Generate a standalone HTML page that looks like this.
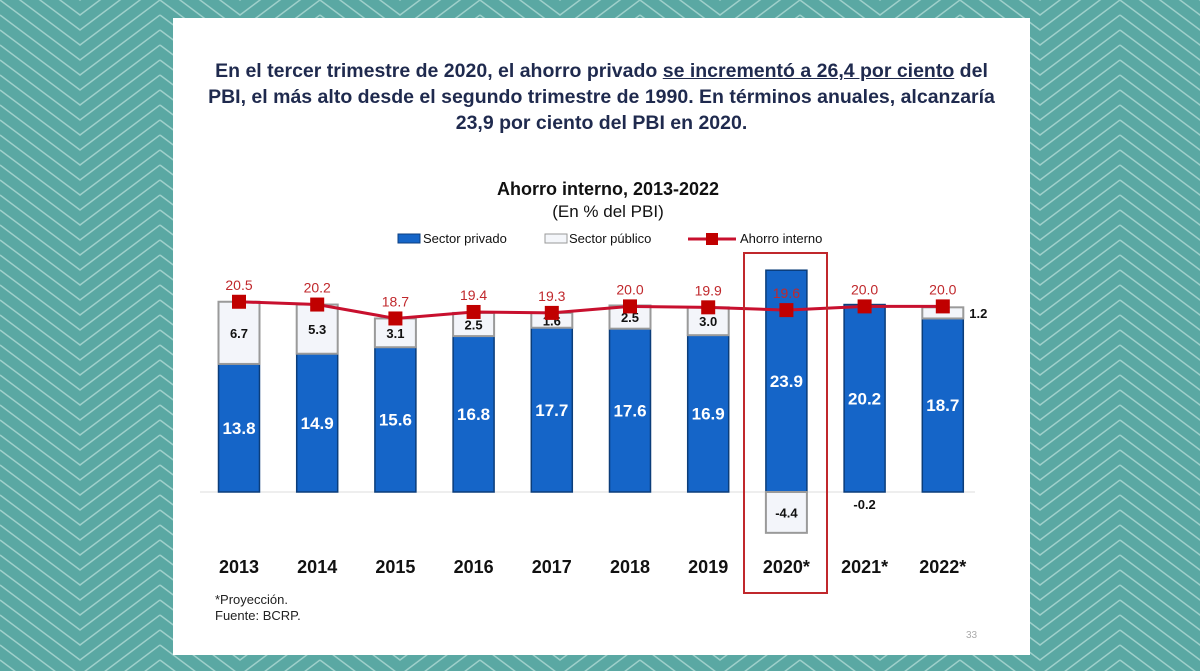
<!DOCTYPE html>
<html><head><meta charset="utf-8"><style>
html,body{margin:0;padding:0;width:1200px;height:671px;overflow:hidden;font-family:"Liberation Sans",Arial,sans-serif}
#bg{position:absolute;left:0;top:0}
#panel{position:absolute;left:173px;top:18px;width:857px;height:637px;background:#fff}
#head{position:absolute;left:173px;top:58px;width:857px;text-align:center;font-weight:bold;font-size:19.5px;line-height:26px;color:#1f2a4e}
#head u{text-decoration:underline}
#chart{position:absolute;left:0;top:0}
</style></head><body>
<svg id="bg" width="1200" height="671">
<defs><pattern id="chev" width="160" height="15" patternUnits="userSpaceOnUse" x="0" y="0">
<rect width="160" height="15" fill="#5aa8a3"/>
<polyline points="0,-60 80,0 160,-60" fill="none" stroke="#9fd0cb" stroke-width="1.5"/>
<polyline points="0,-45 80,15 160,-45" fill="none" stroke="#9fd0cb" stroke-width="1.5"/>
<polyline points="0,-30 80,30 160,-30" fill="none" stroke="#9fd0cb" stroke-width="1.5"/>
<polyline points="0,-15 80,45 160,-15" fill="none" stroke="#9fd0cb" stroke-width="1.5"/>
<polyline points="0,0 80,60 160,0" fill="none" stroke="#9fd0cb" stroke-width="1.5"/>
<polyline points="0,15 80,75 160,15" fill="none" stroke="#9fd0cb" stroke-width="1.5"/>
</pattern></defs>
<rect width="1200" height="671" fill="url(#chev)"/>
</svg>
<div id="panel"></div>
<div id="head">En el tercer trimestre de 2020, el ahorro privado <u>se incrementó a 26,4 por ciento</u> del<br>PBI, el más alto desde el segundo trimestre de 1990. En términos anuales, alcanzaría<br>23,9 por ciento del PBI en 2020.</div>
<svg id="chart" width="1200" height="671">
<text x="608" y="195" text-anchor="middle" font-size="18" font-weight="bold" fill="#111">Ahorro interno, 2013-2022</text>
<text x="608" y="217" text-anchor="middle" font-size="17" fill="#111">(En % del PBI)</text>
<g>
<rect x="398" y="234" width="22" height="9" fill="#1565c8" stroke="#0d3f80"/>
<text x="423" y="243" font-size="13" fill="#111">Sector privado</text>
<rect x="545" y="234" width="22" height="9" fill="#f4f6fa" stroke="#999"/>
<text x="569" y="243" font-size="13" fill="#111">Sector público</text>
<line x1="688" y1="239" x2="736" y2="239" stroke="#c8102e" stroke-width="3"/>
<rect x="706" y="233" width="12" height="12" fill="#c00000"/>
<text x="740" y="243" font-size="13" fill="#111">Ahorro interno</text>
</g>
<line x1="200" y1="492" x2="975" y2="492" stroke="#ddd" stroke-width="1"/>
<g id="bars"></g>
<rect x="744" y="253" width="83" height="340" fill="none" stroke="#c0282c" stroke-width="2"/>
<text x="215" y="604" font-size="13" fill="#222">*Proyección.</text>
<text x="215" y="620" font-size="13" fill="#222">Fuente: BCRP.</text>
<text x="966" y="638" font-size="10" fill="#aaa">33</text>
</svg>
<script>
const years=["2013","2014","2015","2016","2017","2018","2019","2020*","2021*","2022*"];
const privado=[13.8,14.9,15.6,16.8,17.7,17.6,16.9,23.9,20.2,18.7];
const publico=[6.7,5.3,3.1,2.5,1.6,2.5,3.0,-4.4,-0.2,1.2];
const ahorro=[20.5,20.2,18.7,19.4,19.3,20.0,19.9,19.6,20.0,20.0];
const NS="http://www.w3.org/2000/svg";
const g=document.getElementById('bars');
const base=492,ppu=9.28,x0=239,step=78.2,bw=41;
const y=v=>base-v*ppu, xc=i=>x0+i*step;
function mk(tag,attrs,parent){const e=document.createElementNS(NS,tag);for(const k in attrs)e.setAttribute(k,attrs[k]);(parent||g).appendChild(e);return e;}
years.forEach((yr,i)=>{
  const cx=xc(i);
  const p=mk('rect',{x:cx-bw/2,y:y(privado[i]),width:bw,height:privado[i]*ppu,fill:'#1565c8',stroke:'#0b3d7a','stroke-width':1.5});
  
  
  const pv=publico[i];
  let top,h;
  if(pv>=0){top=y(privado[i]+pv);h=pv*ppu;}else{top=base;h=-pv*ppu;}
  if(Math.abs(pv)>0.3){
    const q=mk('rect',{x:cx-bw/2,y:top,width:bw,height:h,fill:'#f3f5fa',stroke:'#9a9a9a','stroke-width':2});
    
    
  }
  const t=mk('text',{x:cx,y:y(privado[i]/2)+6,'text-anchor':'middle','font-size':17,'font-weight':'bold',fill:'#fff'});
  t.textContent=privado[i].toFixed(1);
  
  
  let lx=cx,ly,anchor='middle';
  if(pv>=1.5) ly=top+h/2+5;
  else if(pv>0){lx=cx+bw/2+6;ly=top+h/2+5;anchor='start';}
  else if(pv<-1) ly=base+h/2+5;
  else ly=base+17;
  if(i===4) ly=top+h/2+5;
  const u=mk('text',{x:lx,y:ly,'text-anchor':anchor,'font-size':13,'font-weight':'bold',fill:'#111'});
  u.textContent=pv.toFixed(1);
  
  
  const a=mk('text',{x:cx,y:y(ahorro[i])-12,'text-anchor':'middle','font-size':14,fill:'#c0282c'});
  a.textContent=ahorro[i].toFixed(1);
  
  
  const xl=mk('text',{x:cx,y:573,'text-anchor':'middle','font-size':18,'font-weight':'bold',fill:'#111'});
  xl.textContent=yr;
  
  
});
const line=mk('polyline',{points:ahorro.map((v,i)=>xc(i)+','+y(v)).join(' '),fill:'none',stroke:'#c8102e','stroke-width':3});


ahorro.forEach((v,i)=>{
  const m=mk('rect',{x:xc(i)-7,y:y(v)-7,width:14,height:14,fill:'#c00000'});
  
  
});
</script>
</body></html>
